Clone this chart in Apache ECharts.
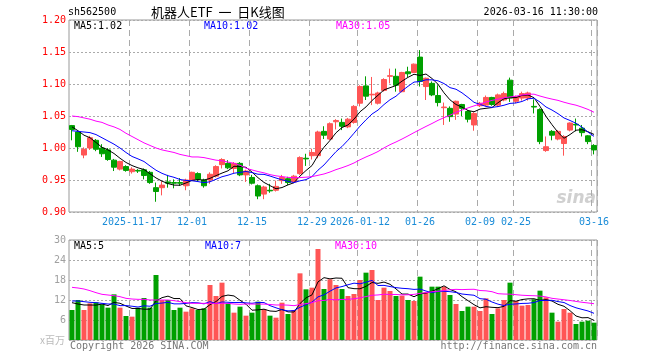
<!DOCTYPE html>
<html><head><meta charset="utf-8">
<script src="https://cdn.jsdelivr.net/npm/echarts@6/dist/echarts.min.js"></script>
<style>html,body{margin:0;padding:0;background:#fff}#c{width:660px;height:360px}</style>
</head><body><div id="c"></div><script>
const dates = [
 '2025-11-03','2025-11-04','2025-11-05','2025-11-06','2025-11-07',
 '2025-11-10','2025-11-11','2025-11-12','2025-11-13','2025-11-14',
 '2025-11-17','2025-11-18','2025-11-19','2025-11-20','2025-11-21',
 '2025-11-24','2025-11-25','2025-11-26','2025-11-27','2025-11-28',
 '2025-12-01','2025-12-02','2025-12-03','2025-12-04','2025-12-05',
 '2025-12-08','2025-12-09','2025-12-10','2025-12-11','2025-12-12',
 '2025-12-15','2025-12-16','2025-12-17','2025-12-18','2025-12-19',
 '2025-12-22','2025-12-23','2025-12-24','2025-12-25','2025-12-26',
 '2025-12-29','2025-12-30','2025-12-31',
 '2026-01-05','2026-01-06','2026-01-07','2026-01-08','2026-01-09',
 '2026-01-12','2026-01-13','2026-01-14','2026-01-15','2026-01-16',
 '2026-01-19','2026-01-20','2026-01-21','2026-01-22','2026-01-23',
 '2026-01-26','2026-01-27','2026-01-28','2026-01-29','2026-01-30',
 '2026-02-02','2026-02-03','2026-02-04','2026-02-05','2026-02-06',
 '2026-02-09','2026-02-10','2026-02-11','2026-02-12','2026-02-13',
 '2026-02-24','2026-02-25','2026-02-26','2026-02-27',
 '2026-03-02','2026-03-03','2026-03-04','2026-03-05','2026-03-06',
 '2026-03-09','2026-03-10','2026-03-11','2026-03-12','2026-03-13',
 '2026-03-16'
];
const tickDates = ['2025-11-17','2025-12-01','2025-12-15','2025-12-29','2026-01-12','2026-01-26','2026-02-09','2026-02-25','2026-03-16'];
const tickTexts = ['2025-11-17','12-01','12-15','12-29','2026-01-12','01-26','02-09','02-25','03-16'];
const priceTicks = [0.90, 0.95, 1.00, 1.05, 1.10, 1.15, 1.20];
const volumeTicks = [0, 6, 12, 18, 24, 30];

const open = [1.035,1.025,0.989,1.000,1.012,1.000,0.997,0.981,0.967,0.971,
 0.963,0.965,0.966,0.962,0.938,0.938,0.947,0.946,0.946,0.941,
 0.950,0.960,0.950,0.950,0.956,0.974,0.976,0.968,0.976,0.958,
 0.954,0.941,0.928,0.934,0.934,0.949,0.952,0.947,0.960,0.984,
 0.988,0.988,1.026,1.014,1.041,1.040,1.033,1.040,1.070,1.097,
 1.083,1.070,1.090,1.112,1.112,1.088,1.119,1.118,1.142,1.096,
 1.101,1.082,1.063,1.062,1.053,1.068,1.057,1.036,1.066,1.067,
 1.079,1.067,1.075,1.106,1.073,1.078,1.078,1.065,1.060,0.996,
 1.026,1.014,1.007,1.028,1.037,1.031,1.019,1.004];
const close = [1.029,1.002,0.998,1.016,0.998,0.991,0.982,0.970,0.979,0.965,
 0.967,0.964,0.957,0.946,0.932,0.942,0.945,0.945,0.945,0.950,
 0.962,0.951,0.941,0.959,0.971,0.982,0.969,0.976,0.958,0.964,
 0.945,0.925,0.939,0.933,0.940,0.954,0.946,0.956,0.985,0.983,
 0.993,1.025,1.020,1.038,1.043,1.034,1.045,1.065,1.096,1.081,
 1.084,1.086,1.107,1.113,1.098,1.118,1.116,1.131,1.104,1.109,
 1.083,1.071,1.064,1.049,1.073,1.062,1.045,1.054,1.070,1.079,
 1.068,1.083,1.085,1.078,1.080,1.085,1.086,1.064,1.010,1.002,
 1.020,1.026,1.018,1.039,1.036,1.024,1.010,0.997];
const low = [1.012,0.994,0.984,0.997,0.995,0.986,0.980,0.964,0.965,0.963,
 0.960,0.961,0.951,0.944,0.916,0.926,0.938,0.937,0.941,0.934,
 0.949,0.948,0.938,0.944,0.954,0.968,0.967,0.961,0.956,0.947,
 0.943,0.920,0.920,0.930,0.932,0.944,0.942,0.945,0.958,0.972,
 0.982,0.984,1.014,1.012,1.029,1.028,1.031,1.038,1.065,1.075,
 1.067,1.068,1.088,1.101,1.088,1.087,1.111,1.117,1.096,1.075,
 1.081,1.065,1.036,1.041,1.044,1.050,1.040,1.027,1.064,1.065,
 1.066,1.064,1.073,1.072,1.070,1.074,1.074,1.054,1.006,0.994,
 1.012,1.012,0.988,1.026,1.026,1.018,1.006,0.990];
const high = [1.036,1.026,1.001,1.019,1.014,1.006,1.000,0.983,0.980,0.973,
 0.970,0.967,0.968,0.964,0.946,0.948,0.958,0.951,0.953,0.952,
 0.963,0.962,0.952,0.962,0.973,0.984,0.981,0.978,0.978,0.966,
 0.958,0.943,0.941,0.944,0.949,0.958,0.955,0.958,0.987,0.991,
 0.999,1.027,1.034,1.040,1.045,1.046,1.047,1.067,1.098,1.112,
 1.111,1.088,1.109,1.124,1.124,1.119,1.127,1.132,1.153,1.110,
 1.104,1.098,1.071,1.065,1.074,1.069,1.059,1.056,1.072,1.082,
 1.080,1.085,1.088,1.110,1.082,1.088,1.088,1.076,1.062,1.018,
 1.028,1.028,1.020,1.040,1.046,1.036,1.020,1.006];
const volume = [9.0,12.0,9.0,11.0,11.3,10.7,9.7,13.7,9.7,7.2,
 7.0,9.7,12.6,9.7,19.5,12.0,12.0,9.0,9.7,8.5,
 9.5,9.0,9.5,16.5,13.2,17.2,11.0,8.2,10.0,7.3,
 8.2,11.5,9.2,7.3,6.7,11.2,7.8,9.0,20.0,15.2,
 15.7,27.3,15.3,18.2,16.5,15.3,13.2,13.8,18.0,20.2,
 21.0,12.0,15.7,14.7,13.2,13.3,12.0,11.7,19.0,14.3,
 16.0,16.0,16.0,13.5,10.8,8.7,10.0,10.0,8.7,12.5,
 7.8,9.5,12.0,17.2,11.7,10.3,10.5,12.2,14.8,12.8,
 8.2,5.5,9.3,8.2,4.8,5.5,5.8,5.2];

// moving-average values before enough visible history exists
const ma5PriceHead = [1.033,1.027,1.020,1.016];
const ma10PriceHead = [1.027,1.026,1.025,1.024,1.021,1.016,1.011,1.006,1.000];
const ma30PriceHead = [1.050,1.049,1.047,1.045,1.042,1.040,1.036,1.033,1.029,1.023,
 1.018,1.013,1.008,1.004,1.000,0.997,0.995,0.993,0.990,0.988,
 0.986,0.986,0.985,0.983,0.981,0.980,0.978,0.976,0.973];
const ma5VolHead = [11.2,10.8,10.5,10.5];
const ma10VolHead = [11.7,11.7,11.5,11.3,11.2,11.0,10.8,10.8,10.3];
const ma30VolHead = [15.8,15.6,15.3,14.8,14.2,13.7,13.5,13.3,13.0,12.5,
 12.3,12.2,12.2,12.0,12.0,12.0,12.0,11.8,11.5,11.2,
 11.0,11.0,11.0,11.0,11.0,11.0,11.0,10.8,10.7];

function ma(src, n, head) {
  return src.map((v, i) => {
    if (i < n - 1) return head[i];
    let s = 0;
    for (let k = i - n + 1; k <= i; k++) s += src[k];
    return +(s / n).toFixed(4);
  });
}

const UP = '#ff5555', DOWN = '#00a000';
const MONO = 'DejaVu Sans Mono';
const candles = dates.map((d, i) => [open[i], close[i], low[i], high[i]]);
const volBars = volume.map((v, i) => ({ value: v, itemStyle: { color: close[i] >= open[i] ? UP : DOWN } }));
const isTick = (idx, val) => tickDates.indexOf(val) >= 0;

const chart = echarts.init(document.getElementById('c'), null, { renderer: 'canvas' });
const txt = (text, x, y, fill, font, align) => ({
  type: 'text', x: x, y: y, silent: true,
  style: { text: text, fill: fill, font: font, align: align || 'left', verticalAlign: 'middle' }
});
const lineS = (name, data, color, xi, yi) => ({
  name, type: 'line', data, xAxisIndex: xi, yAxisIndex: yi, showSymbol: false, symbol: 'none',
  lineStyle: { color, width: 1 }, itemStyle: { color }, silent: true, z: 3
});

chart.setOption({
  animation: false,
  backgroundColor: '#fff',
  grid: [
    { left: 69, top: 20, width: 528, height: 192, show: true, borderColor: '#999', borderWidth: 1, backgroundColor: 'transparent' },
    { left: 69, top: 240, width: 528, height: 100, show: true, borderColor: '#999', borderWidth: 1, backgroundColor: 'transparent' }
  ],
  xAxis: [
    { type: 'category', data: dates, gridIndex: 0, boundaryGap: true,
      axisLine: { show: false }, axisTick: { show: false },
      axisLabel: { interval: isTick, formatter: v => tickTexts[tickDates.indexOf(v)], color: '#1a8cd8',
        fontFamily: MONO, fontSize: 10, margin: 5 },
      splitLine: { show: true, interval: isTick, lineStyle: { color: '#aaa', type: [6, 4], width: 1 } } },
    { type: 'category', data: dates, gridIndex: 1, boundaryGap: true,
      axisLine: { show: false }, axisTick: { show: false }, axisLabel: { show: false },
      splitLine: { show: true, interval: isTick, lineStyle: { color: '#aaa', type: [6, 4], width: 1 } } }
  ],
  yAxis: [
    { type: 'value', gridIndex: 0, min: priceTicks[0], max: priceTicks[priceTicks.length - 1], interval: 0.05,
      axisLine: { show: false }, axisTick: { show: false },
      axisLabel: { color: '#ff0000', fontFamily: MONO, fontSize: 10, margin: 3, formatter: v => v.toFixed(2) },
      splitLine: { show: true, lineStyle: { color: '#aaa', type: [2, 2], width: 1 } } },
    { type: 'value', gridIndex: 1, min: volumeTicks[0], max: volumeTicks[volumeTicks.length - 1], interval: 6,
      axisLine: { show: false }, axisTick: { show: false },
      axisLabel: { color: '#a0a0a0', fontFamily: MONO, fontSize: 10, margin: 3, formatter: v => v === 0 ? '' : String(v) },
      splitLine: { show: true, lineStyle: { color: '#aaa', type: [2, 2], width: 1 } } }
  ],
  series: [
    { type: 'candlestick', xAxisIndex: 0, yAxisIndex: 0, data: candles, barWidth: 5, silent: true,
      itemStyle: { color: UP, color0: DOWN, borderColor: UP, borderColor0: DOWN, borderWidth: 1 } },
    lineS('MA5', ma(close, 5, ma5PriceHead), '#000000', 0, 0),
    lineS('MA10', ma(close, 10, ma10PriceHead), '#0000ff', 0, 0),
    lineS('MA30', ma(close, 30, ma30PriceHead), '#ff00ff', 0, 0),
    { type: 'bar', xAxisIndex: 1, yAxisIndex: 1, data: volBars, barWidth: 5, silent: true },
    lineS('VMA5', ma(volume, 5, ma5VolHead), '#000000', 1, 1),
    lineS('VMA10', ma(volume, 10, ma10VolHead), '#0000ff', 1, 1),
    lineS('VMA30', ma(volume, 30, ma30VolHead), '#ff00ff', 1, 1)
  ],
  graphic: [
    txt('sh562500', 68, 12, '#000', '10px "DejaVu Sans Mono"'),
    txt('机器人ETF  一  日K线图', 151, 12, '#000', '13px "Noto Sans CJK SC"'),
    txt('2026-03-16 11:30:00', 598, 12, '#000', '10px "DejaVu Sans Mono"', 'right'),
    txt('MA5:1.02', 74, 26, '#000', '10px "DejaVu Sans Mono"'),
    txt('MA10:1.02', 204, 26, '#0000ff', '10px "DejaVu Sans Mono"'),
    txt('MA30:1.05', 336, 26, '#ff00ff', '10px "DejaVu Sans Mono"'),
    txt('MA5:5', 74, 246, '#000', '10px "DejaVu Sans Mono"'),
    txt('MA10:7', 205, 246, '#0000ff', '10px "DejaVu Sans Mono"'),
    txt('MA30:10', 335, 246, '#ff00ff', '10px "DejaVu Sans Mono"'),
    txt('x百万', 65, 340, '#bbbbbb', '10px "Noto Sans CJK SC"', 'right'),
    txt('Copyright 2026 SINA.COM', 70, 346, '#777', '10px "DejaVu Sans Mono"'),
    txt('http://finance.sina.com.cn', 597, 346, '#777', '10px "DejaVu Sans Mono"', 'right'),
    txt('sina', 596, 199, '#d0d0d0', 'italic bold 17px "DejaVu Sans"', 'right')
  ]
});
</script></body></html>
